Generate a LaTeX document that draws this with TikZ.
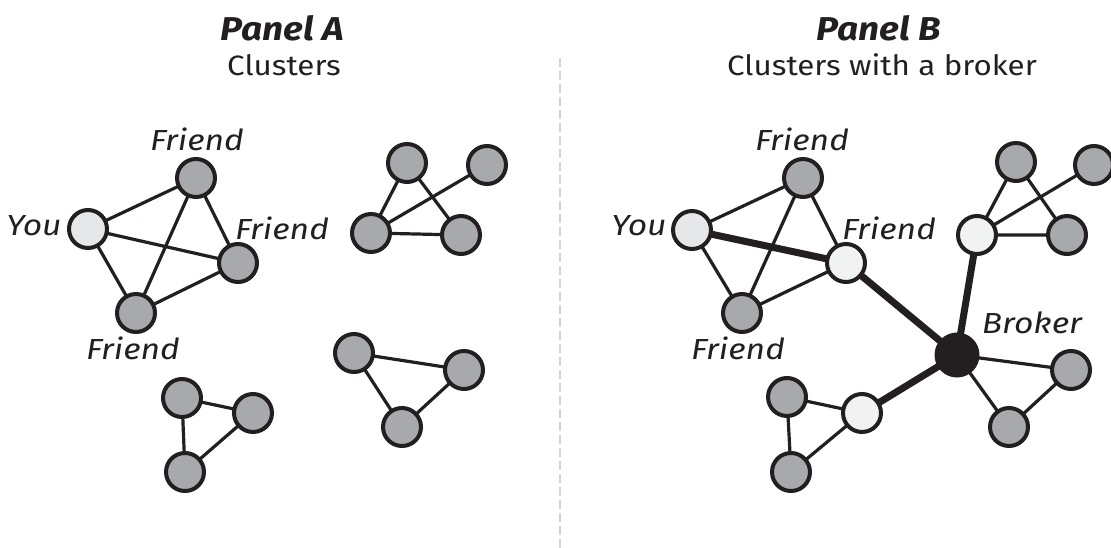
\documentclass[tikz,border=0pt]{standalone}
\usepackage{fontspec}
\setmainfont{Fira Sans}
\newfontfamily\headfont[FakeStretch=1.12]{Fira Sans}
\newfontfamily\notefont[FakeStretch=1.12]{Fira Sans}
\newfontfamily\tagfont[FakeStretch=1.16]{Fira Sans}
\usetikzlibrary{backgrounds}
\definecolor{ink}{HTML}{231F20}
\definecolor{nodegray}{HTML}{A7A9AC}
\definecolor{youfill}{HTML}{E6E7E8}
\definecolor{linkfill}{HTML}{F1F2F2}
\definecolor{rule}{HTML}{D4D4D4}
\tikzset{
  vert/.style={circle, draw=ink, line width=4pt, fill=nodegray, minimum size=38pt, inner sep=0pt, outer sep=0pt},
  you/.style={vert, fill=youfill},
  linker/.style={vert, fill=linkfill},
  broker/.style={vert, fill=ink, minimum size=41pt},
  tie/.style={draw=ink, line width=3.2pt},
  bridge/.style={draw=ink, line width=7pt},
  title/.style={font=\headfont\fontsize{33}{35}\selectfont\bfseries\itshape, text=ink, inner sep=0pt},
  subtitle/.style={font=\notefont\fontsize{28}{30}\selectfont, text=ink, inner sep=0pt},
  lab/.style={font=\tagfont\fontsize{29}{31}\selectfont\itshape, text=ink, inner sep=0pt},
}
\begin{document}
\begin{tikzpicture}[x=1pt, y=-1pt]
\useasboundingbox (0,0) rectangle (1111,548);

% divider between the two panels
\draw[rule, line width=1.6pt, dash pattern=on 9pt off 4pt] (560,58) -- (560,548);

% ---------- Panel A ----------
\node[title] (tA) at (282,28) {Panel A};
\node[subtitle] (sA) at (284,65) {Clusters};

\node[you]  (aYou) at (88,229) {};
\node[vert] (aF1) at (196,178) {};
\node[vert] (aF2) at (238,263) {};
\node[vert] (aF3) at (136,313) {};
\node[lab] (lYouA) at (34,226) {You};
\node[lab] (lF1A) at (197,139) {Friend};
\node[lab] (lF2A) at (282,228) {Friend};
\node[lab] (lF3A) at (133,348) {Friend};

\node[vert] (aB1) at (407,163) {};
\node[vert] (aB2) at (487,165) {};
\node[vert] (aB3) at (371,233) {};
\node[vert] (aB4) at (461,235) {};

\node[vert] (aC1) at (182,398) {};
\node[vert] (aC2) at (253,413) {};
\node[vert] (aC3) at (185,472) {};

\node[vert] (aD1) at (354,353) {};
\node[vert] (aD2) at (464,370) {};
\node[vert] (aD3) at (402,427) {};

\begin{scope}[on background layer]
  \path[tie] (aYou) -- (aF1) (aYou) -- (aF2) (aYou) -- (aF3)
             (aF1) -- (aF2) (aF1) -- (aF3) (aF2) -- (aF3);
  \path[tie] (aB1) -- (aB3) (aB1) -- (aB4) (aB2) -- (aB3) (aB3) -- (aB4);
  \path[tie] (aC1) -- (aC2) (aC1) -- (aC3) (aC2) -- (aC3);
  \path[tie] (aD1) -- (aD2) (aD1) -- (aD3) (aD2) -- (aD3);
\end{scope}

% ---------- Panel B ----------
\node[title] (tB) at (879,28) {Panel B};
\node[subtitle] (sB) at (882,65) {Clusters with a broker};

\node[you]    (bYou) at (692,230) {};
\node[vert]   (bF1) at (803,178) {};
\node[linker] (bF2) at (846,263) {};
\node[vert]   (bF3) at (742,313) {};
\node[lab] (lYouB) at (639,226) {You};
\node[lab] (lF1B) at (802,139) {Friend};
\node[lab] (lF2B) at (889,228) {Friend};
\node[lab] (lF3B) at (738,348) {Friend};

\node[vert]   (bB1) at (1016,162) {};
\node[vert]   (bB2) at (1094,165) {};
\node[linker] (bB3) at (977,235) {};
\node[vert]   (bB4) at (1067,235) {};

\node[vert]   (bC1) at (787,397) {};
\node[linker] (bC2) at (862,413) {};
\node[vert]   (bC3) at (791,472) {};

\node[broker] (bK)  at (957,355) {};
\node[vert]   (bD2) at (1071,370) {};
\node[vert]   (bD3) at (1009,427) {};
\node[lab] (lK) at (1032,323) {Broker};

\begin{scope}[on background layer]
  \path[tie] (bYou) -- (bF1) (bYou) -- (bF3)
             (bF1) -- (bF2) (bF1) -- (bF3) (bF2) -- (bF3);
  \path[bridge] (bYou) -- (bF2);
  \path[tie] (bB1) -- (bB3) (bB1) -- (bB4) (bB2) -- (bB3) (bB3) -- (bB4);
  \path[tie] (bC1) -- (bC2) (bC1) -- (bC3) (bC2) -- (bC3);
  \path[tie] (bK) -- (bD2) (bK) -- (bD3) (bD2) -- (bD3);
  \path[bridge] (bF2) -- (bK) (bB3) -- (bK) (bC2) -- (bK);
\end{scope}
\end{tikzpicture}
\end{document}
